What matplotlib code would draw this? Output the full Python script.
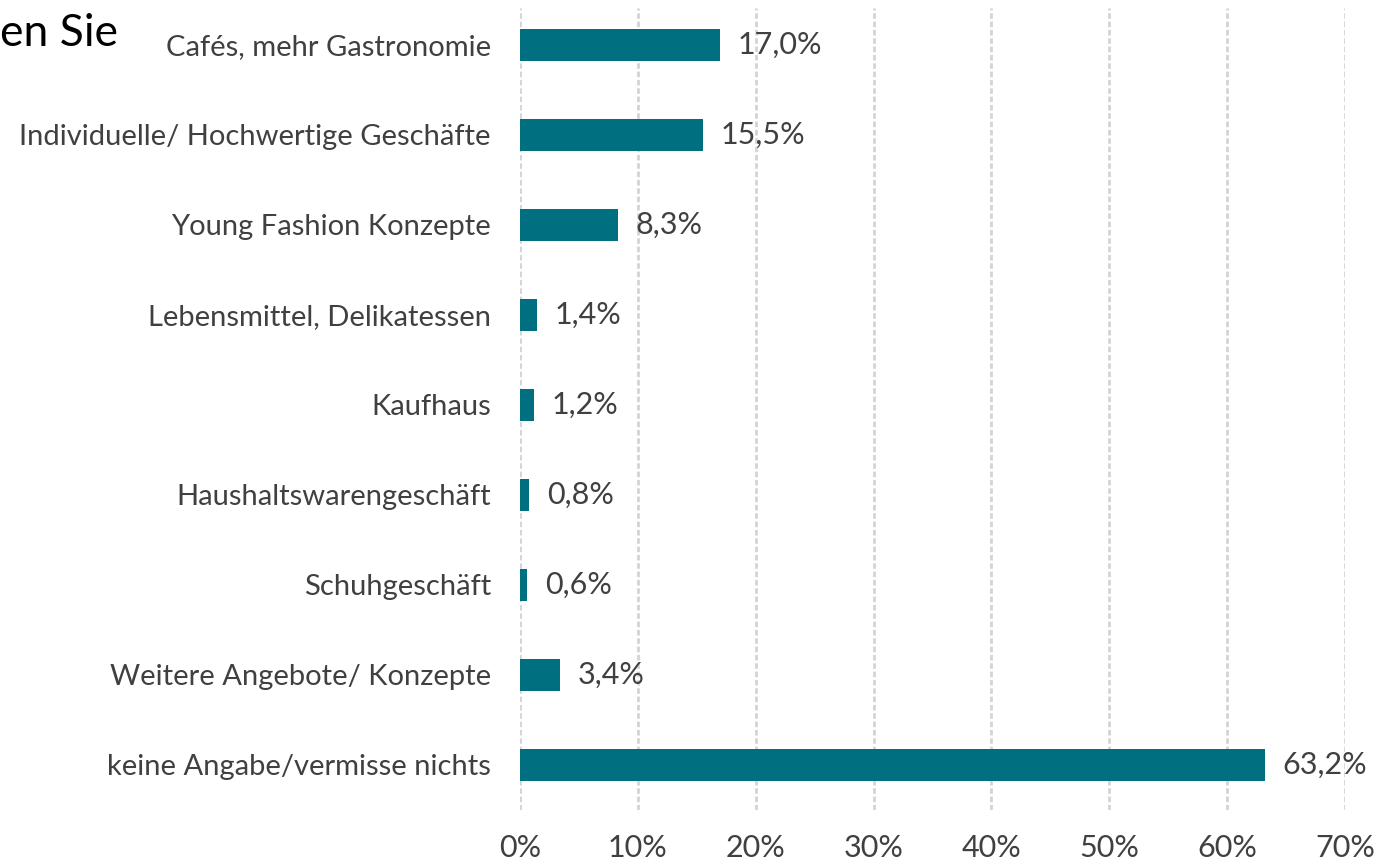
import matplotlib
matplotlib.use("Agg")
import matplotlib.pyplot as plt
from matplotlib.ticker import FuncFormatter

categories = [
    "Cafés, mehr Gastronomie",
    "Individuelle/ Hochwertige Geschäfte",
    "Young Fashion Konzepte",
    "Lebensmittel, Delikatessen",
    "Kaufhaus",
    "Haushaltswarengeschäft",
    "Schuhgeschäft",
    "Weitere Angebote/ Konzepte",
    "keine Angabe/vermisse nichts",
]
values = [17.0, 15.5, 8.3, 1.4, 1.2, 0.8, 0.6, 3.4, 63.2]
x_ticks = [0, 10, 20, 30, 40, 50, 60, 70]

BAR = "#006f80"
TXT = "#404040"
plt.rcParams["font.family"] = ["Lato", "DejaVu Sans"]

fig = plt.figure(figsize=(13.88, 8.63), dpi=100)
ax = fig.add_axes([520 / 1388, 1 - 810 / 863, 825 / 1388, 802 / 863])

ypos = list(range(len(categories)))
ax.barh(ypos, values, height=0.36, color=BAR, zorder=3)
for y, v in zip(ypos, values):
    ax.text(v + 1.5, y, f"{v:.1f}%".replace(".", ","), va="center", ha="left",
            fontsize=22, color=TXT)

ax.set_xlim(0, 70)
ax.set_ylim(8.5, -0.41)
ax.set_yticks(ypos)
ax.set_yticklabels(categories, fontsize=21, color=TXT)
ax.set_xticks(x_ticks)
ax.xaxis.set_major_formatter(FuncFormatter(lambda v, p: f"{v:.0f}%"))
ax.tick_params(axis="x", labelsize=22, labelcolor=TXT, length=0, pad=17)
ax.tick_params(axis="y", length=0, pad=21)
ax.grid(axis="x", color="#d4d4d4", linewidth=2, linestyle=(0, (2, 1)), zorder=0)
for s in ax.spines.values():
    s.set_visible(False)

fig.text(0, 1 - 33 / 863, "en Sie", fontsize=32, color="black", va="center", ha="left")

fig.savefig("out.png", dpi=100)
